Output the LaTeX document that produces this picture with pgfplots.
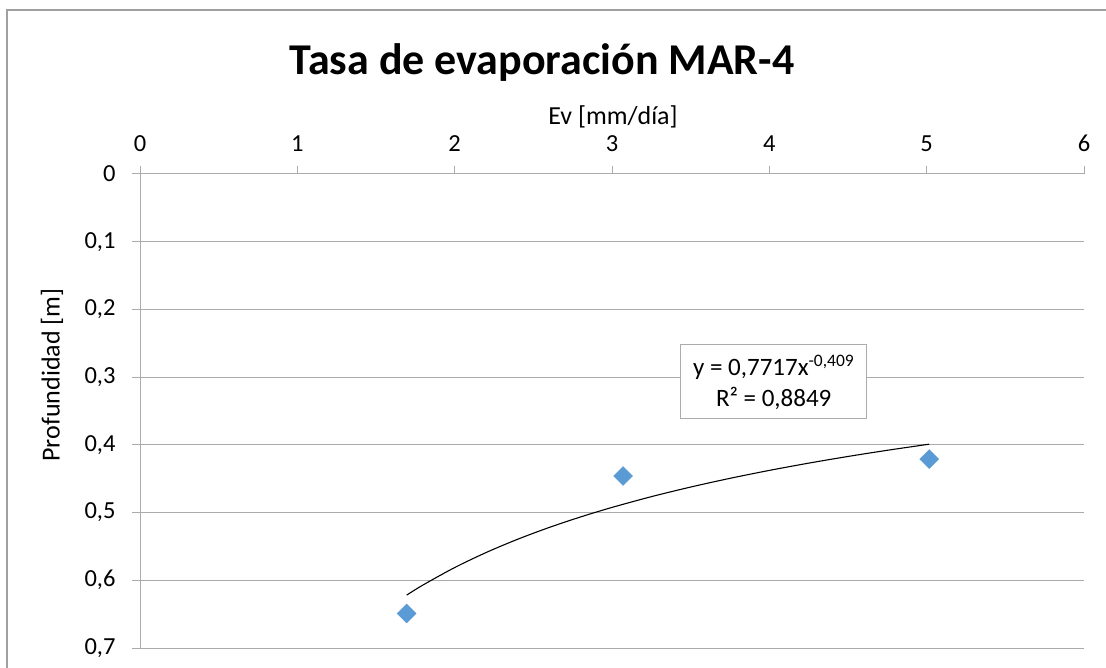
\documentclass[border=0pt]{standalone}
\usepackage{fontspec}
\setmainfont{Carlito}
\usepackage{pgfplots}
\pgfplotsset{compat=1.18}
\definecolor{excelblue}{HTML}{5B9BD5}
\definecolor{gridgray}{HTML}{ABABAB}
\definecolor{framegray}{HTML}{A0A0A0}
\begin{document}
\begin{tikzpicture}
\useasboundingbox (0pt,0pt) rectangle (1106pt,668pt);
\fill[white] (0pt,0pt) rectangle (1106pt,668pt);
\draw[framegray,line width=1.2pt] (7pt,0pt) -- (7pt,658pt) -- (1106pt,658pt);
\begin{axis}[
  at={(140pt,20pt)}, anchor=south west,
  scale only axis, width=944pt, height=474pt,
  xmin=0, xmax=6, ymin=0, ymax=0.7,
  y dir=reverse,
  axis x line*=top, axis y line*=left,
  axis line style={gridgray,line width=1pt,-},
  xtick={0,1,2,3,4,5,6},
  ytick={0,0.1,0.2,0.3,0.4,0.5,0.6,0.7},
  ymajorgrids,
  grid style={gridgray,line width=1pt},
  tick align=outside, major tick length=8pt,
  tick style={gridgray,line width=1pt},
  /pgf/number format/use comma,
  /pgf/number format/assume math mode=true,
  ticklabel style={font=\fontsize{24.5}{28}\selectfont, text=black},
  xticklabel style={yshift=11pt},
  yticklabel style={xshift=-13pt},
  clip=false,
]
\addplot[only marks, mark=square*, mark size=6.7pt,
  mark options={rotate=45, fill=excelblue, draw=excelblue}]
  coordinates {(1.695,0.649) (3.07,0.446) (5.016,0.421)};
\addplot[black, line width=1.1pt, smooth] coordinates {
 (1.695,0.62191) (1.8,0.60680) (2.0,0.58120) (2.2,0.55898) (2.4,0.53943)
 (2.6,0.52206) (2.8,0.50648) (3.0,0.49239) (3.25,0.47652) (3.5,0.46230)
 (3.75,0.44944) (4.0,0.43773) (4.25,0.42700) (4.5,0.41714) (4.75,0.40802)
 (5.016,0.39902)};
\end{axis}
\node[font=\bfseries\fontsize{44}{50}\selectfont] at (542pt,605pt) {Tasa de evaporación MAR-4};
\node[font=\fontsize{26}{30}\selectfont] at (613pt,551pt) {Ev [mm/día]};
\node[font=\fontsize{26}{30}\selectfont, rotate=90] at (52pt,293pt) {Profundidad [m]};
\node[draw=gridgray, line width=1pt, fill=white, minimum width=186pt, minimum height=74pt,
  align=center, font=\fontsize{25}{31}\selectfont, inner sep=2pt] at (773.7pt,286pt)
  {y = 0,7717x\textsuperscript{-0,409}\\R² = 0,8849};
\end{tikzpicture}
\end{document}
